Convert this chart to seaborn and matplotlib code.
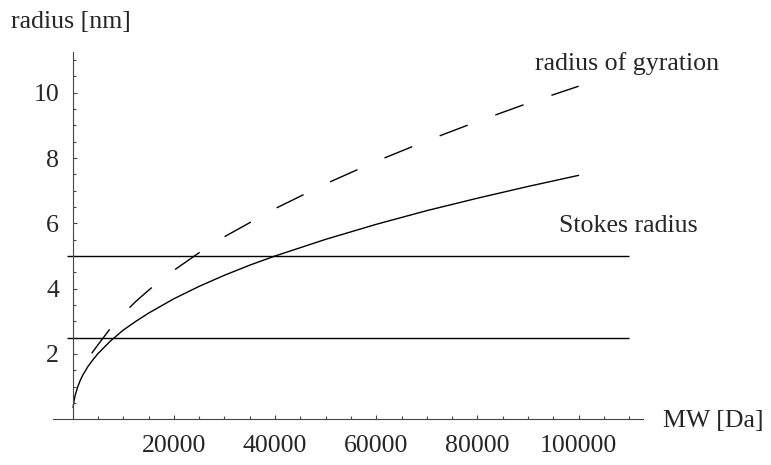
import matplotlib
matplotlib.use("Agg")
import matplotlib.pyplot as plt
import seaborn as sns
import pandas as pd
from matplotlib.ticker import FixedLocator, NullFormatter

# ---- data ----
mw_stokes = [100, 250, 500, 1000, 1500, 2000, 3000, 4000, 5000, 7500, 10000, 12500,
             15000, 20000, 25000, 30000, 35000, 40000, 50000, 60000, 70000, 80000,
             90000, 100000]
r_stokes = [0.36, 0.54, 0.73, 0.99, 1.19, 1.35, 1.61, 1.82, 2.01, 2.40, 2.73, 3.00,
            3.25, 3.69, 4.07, 4.41, 4.72, 5.00, 5.51, 5.97, 6.39, 6.77,
            7.13, 7.47]
mw_gyration = [3770, 5000, 7500, 10000, 12500, 15000, 17500, 20000, 25000, 30000,
               40000, 50000, 60000, 70000, 80000, 90000, 100000]
r_gyration = [2.02, 2.28, 2.79, 3.23, 3.61, 3.95, 4.27, 4.56, 5.10, 5.59,
              6.45, 7.21, 7.90, 8.53, 9.12, 9.68, 10.20]
hline_levels = [2.5, 5.0]
x_major_ticks = [20000, 40000, 60000, 80000, 100000]
x_tick_labels = ["20000", "40000", "60000", "80000", "100000"]
y_major_ticks = [2, 4, 6, 8, 10]
y_tick_labels = ["2", "4", "6", "8", "10"]
x_label = "MW [Da]"
y_label = "radius [nm]"
label_gyration = "radius of gyration"
label_stokes = "Stokes radius"

sns.set_style("white")
plt.rcParams["font.family"] = ["Liberation Serif", "DejaVu Serif"]
plt.rcParams["font.size"] = 18.6

fig = plt.figure(figsize=(7.71, 4.65), dpi=100)
ax = fig.add_axes([0, 0, 1, 1])
ax.patch.set_alpha(0)

df_s = pd.DataFrame({"MW": mw_stokes, "R": r_stokes})
df_g = pd.DataFrame({"MW": mw_gyration, "R": r_gyration})

sns.lineplot(data=df_s, x="MW", y="R", ax=ax, color="black", lw=1.0)
sns.lineplot(data=df_g, x="MW", y="R", ax=ax, color="black", lw=1.0,
             linestyle=(0, (21.6, 21.2)))
ax.hlines(hline_levels, -1200, 110000, color="black", lw=1.0)

ax.set_xlim(-14350, 138020)
ax.set_ylim(-1.40, 12.84)

for s in ["top", "right"]:
    ax.spines[s].set_visible(False)
axis_col = "#444444"
ax.spines["left"].set_position(("data", 0))
ax.spines["left"].set_bounds(0, 11.25)
ax.spines["bottom"].set_position(("data", 0))
ax.spines["bottom"].set_bounds(-3900, 112700)
for s in ["left", "bottom"]:
    ax.spines[s].set_color(axis_col)
    ax.spines[s].set_linewidth(0.8)

ax.xaxis.set_major_locator(FixedLocator(x_major_ticks))
ax.set_xticklabels(x_tick_labels)
ax.xaxis.set_minor_locator(FixedLocator([v * 5000 for v in range(1, 23) if v % 4 != 0]))
ax.yaxis.set_major_locator(FixedLocator(y_major_ticks))
ax.set_yticklabels(y_tick_labels)
ax.yaxis.set_minor_locator(FixedLocator([v * 0.5 for v in range(1, 23) if v % 4 != 0]))
ax.xaxis.set_minor_formatter(NullFormatter())
ax.yaxis.set_minor_formatter(NullFormatter())

ax.tick_params(which="both", direction="in", color=axis_col, width=0.8,
               bottom=True, left=True)
ax.tick_params(which="major", length=3.0)
ax.tick_params(which="minor", length=2.2)
ax.tick_params(axis="x", which="major", pad=11.3)
ax.tick_params(axis="y", which="major", pad=9.7)
ax.set_xlabel("")
ax.set_ylabel("")

fig.text(11 / 771, 1 - 28.3 / 465, y_label, ha="left", va="baseline")
ax.text(116680, -0.23, x_label, ha="left", va="baseline")
ax.text(91380, 10.70, label_gyration, ha="left", va="baseline")
ax.text(96190, 5.75, label_stokes, ha="left", va="baseline")

fig.savefig("out.png", dpi=100)
